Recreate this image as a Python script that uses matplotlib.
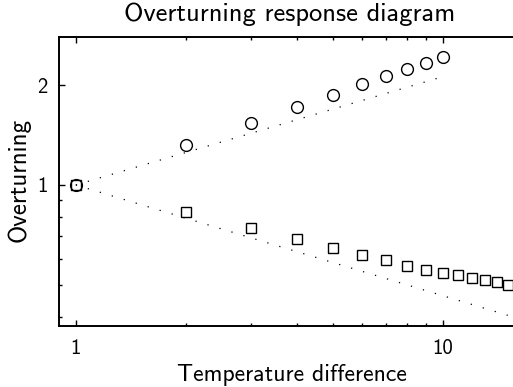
import matplotlib
matplotlib.use("Agg")
import matplotlib.pyplot as plt
from matplotlib.ticker import FixedLocator, NullFormatter

# Data
circle_x = [1, 2, 3, 4, 5, 6, 7, 8, 9, 10]
circle_y = [1.0, 1.32, 1.54, 1.72, 1.87, 2.01, 2.13, 2.24, 2.33, 2.43]
square_x = [1, 2, 3, 4, 5, 6, 7, 8, 9, 10, 11, 12, 13, 14, 15]
square_y = [1.0, 0.829, 0.742, 0.688, 0.647, 0.615, 0.593, 0.571, 0.555,
            0.542, 0.534, 0.526, 0.517, 0.509, 0.499]
upper_ref_x = [1, 10]
upper_ref_y = [1.0, 2.12]
lower_ref_x = [1, 15]
lower_ref_y = [1.0, 0.405]

xticks = [1, 10]
xtick_labels = ["1", "10"]
yticks = [1, 2]
ytick_labels = ["1", "2"]
x_minor = [2, 3, 4, 5, 6, 7, 8, 9]
y_minor = [0.4, 0.5, 0.6, 0.7, 0.8, 0.9]

title_text = "Overturning response diagram"
xlabel_text = "Temperature difference"
ylabel_text = "Overturning"

FONT = "cmss10"
FS = 16
W, H = 513, 387

fig = plt.figure(figsize=(W / 100, H / 100), dpi=100)
ax = fig.add_axes([59 / W, 1 - 326 / H, 1 - 59 / W, (326 - 37) / H])

ax.plot(upper_ref_x, upper_ref_y, color="black", lw=0.9, ls=(0, (1, 9)))
ax.plot(lower_ref_x, lower_ref_y, color="black", lw=0.9, ls=(0, (1, 9)))
ax.plot(circle_x, circle_y, ls="none", marker="o", ms=8.5, mfc="none",
        mec="black", mew=1.0)
ax.plot(square_x, square_y, ls="none", marker="s", ms=6.5, mfc="none",
        mec="black", mew=1.0)

ax.set_xscale("log")
ax.set_yscale("log")
ax.set_xlim(0.9, 15.5)
ax.set_ylim(0.376, 2.79)

ax.xaxis.set_major_locator(FixedLocator(xticks))
ax.set_xticklabels(xtick_labels, fontfamily=FONT, fontsize=15)
ax.xaxis.set_minor_locator(FixedLocator(x_minor))
ax.xaxis.set_minor_formatter(NullFormatter())
ax.yaxis.set_major_locator(FixedLocator(yticks))
ax.set_yticklabels(ytick_labels, fontfamily=FONT, fontsize=15)
ax.yaxis.set_minor_locator(FixedLocator(y_minor))
ax.yaxis.set_minor_formatter(NullFormatter())

ax.tick_params(which="both", direction="in", top=True, bottom=True,
               left=True, right=False, width=1.0)
ax.tick_params(axis="x", which="major", length=4, pad=9)
ax.tick_params(axis="y", which="major", length=4, pad=8)
ax.tick_params(which="minor", length=2.5)

for s in ["left", "bottom", "top"]:
    ax.spines[s].set_linewidth(1.4)
ax.spines["right"].set_visible(False)

t_title = fig.text(289.5 / W, 1 - 21 / H, title_text, ha="center",
                   va="baseline", fontfamily=FONT, fontsize=FS)
t_xl = fig.text(292 / W, 1 - 381 / H, xlabel_text, ha="center",
                va="baseline", fontfamily=FONT, fontsize=FS)
t_yl = fig.text(7 / W, 1 - 180 / H, ylabel_text, ha="left", va="center",
                rotation=90, fontfamily=FONT, fontsize=FS)

# scale text so its extent matches the reference
renderer = fig.canvas.get_renderer()
for t, target, horiz in [(t_title, 331, True), (t_xl, 230, True),
                         (t_yl, 124, False)]:
    bb = t.get_window_extent(renderer)
    size = bb.width if horiz else bb.height
    t.set_fontsize(FS * target / size)

fig.savefig("out.png", dpi=100)
